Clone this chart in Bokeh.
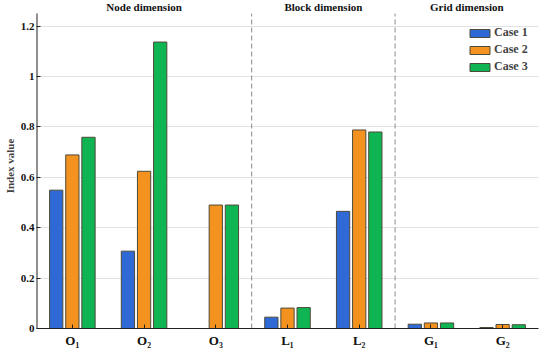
from bokeh.plotting import figure
from bokeh.models import Range1d, FixedTicker, Label, Legend, LegendItem, ColumnDataSource
from bokeh.embed import file_html
from bokeh.resources import INLINE

categories = ["O\u2081", "O\u2082", "O\u2083", "L\u2081", "L\u2082", "G\u2081", "G\u2082"]
case1 = [0.549, 0.307, 0.0, 0.045, 0.465, 0.017, 0.004]
case2 = [0.689, 0.624, 0.490, 0.081, 0.788, 0.022, 0.016]
case3 = [0.759, 1.137, 0.490, 0.083, 0.780, 0.022, 0.015]
series_names = ["Case 1", "Case 2", "Case 3"]
group_titles = ["Node dimension", "Block dimension", "Grid dimension"]
group_centers = [2.0, 4.5, 6.5]
group_dividers = [3.5, 5.5]
y_ticks = [0, 0.2, 0.4, 0.6, 0.8, 1.0, 1.2]
y_tick_labels = ["0", "0.2", "0.4", "0.6", "0.8", "1", "1.2"]

bar_colors = ["#2f69d6", "#f3921f", "#10b553"]
FONT = "Liberation Serif"

X_START, X_END = 0.5, 7.5
AXIS_TOP = 1.25     # where the drawn axis / dividers stop
Y_END = 1.29        # extra room above for the group headings

xs = [i + 1 for i in range(len(categories))]

p = figure(width=542, height=352, output_backend="svg", toolbar_location=None,
           x_range=Range1d(X_START, X_END), y_range=Range1d(0, Y_END),
           min_border_left=28, min_border_right=4, min_border_top=3, min_border_bottom=24)
p.outline_line_color = None
p.background_fill_color = "white"

p.xgrid.grid_line_color = None
p.ygrid.grid_line_color = "#e2e2e2"
p.ygrid.ticker = FixedTicker(ticks=y_ticks)

# dashed dividers between dimension groups
p.segment(x0=group_dividers, y0=[0] * len(group_dividers), x1=group_dividers,
          y1=[AXIS_TOP] * len(group_dividers), line_color="#8a8a8a", line_dash="5 3", line_width=1)

offsets = [-0.225, 0.0, 0.225]
renderers = []
for vals, off, col in zip([case1, case2, case3], offsets, bar_colors):
    src = ColumnDataSource(dict(x=[x + off for x in xs], top=vals))
    r = p.vbar(x="x", top="top", bottom=0, width=0.185, source=src,
               fill_color=col, line_color="#4d4a3a", line_width=1)
    renderers.append(r)

# left axis line that stops at AXIS_TOP
p.segment(x0=[X_START], y0=[0], x1=[X_START], y1=[AXIS_TOP], line_color="#222222", line_width=2)

for t, c in zip(group_titles, group_centers):
    p.add_layout(Label(x=c, y=AXIS_TOP + 0.003, text=t, text_font=FONT, text_font_style="bold",
                       text_font_size="11px", text_align="center", text_baseline="bottom",
                       text_color="#111111"))

legend = Legend(items=[LegendItem(label=n, renderers=[r]) for n, r in zip(series_names, renderers)],
                location=(431, 254), glyph_width=25, glyph_height=10, label_height=11,
                spacing=2, padding=4, margin=0, border_line_color=None,
                background_fill_alpha=0, label_text_font=FONT, label_text_font_style="bold",
                label_text_font_size="12px", label_standoff=2)
p.add_layout(legend)

p.xaxis.ticker = FixedTicker(ticks=xs)
p.xaxis.major_label_overrides = {x: c for x, c in zip(xs, categories)}
p.yaxis.ticker = FixedTicker(ticks=y_ticks)
p.yaxis.major_label_overrides = {t: l for t, l in zip(y_ticks, y_tick_labels)}
p.yaxis.axis_label = "Index value"

for ax in [p.xaxis[0], p.yaxis[0]]:
    ax.axis_line_color = "#222222"
    ax.major_tick_line_color = "#222222"
    ax.major_tick_in = 4
    ax.major_tick_out = 0
    ax.minor_tick_line_color = None
    ax.major_label_text_font = FONT
    ax.major_label_text_font_style = "bold"
    ax.major_label_text_color = "#111111"
    ax.axis_label_text_font = FONT
    ax.axis_label_text_font_style = "bold"
    ax.axis_label_text_font_size = "11px"

p.yaxis.axis_line_color = None
p.xaxis.major_label_text_font_size = "13px"
p.xaxis.major_label_standoff = 4
p.yaxis.major_label_text_font_size = "11px"
p.yaxis.major_label_standoff = 2
p.yaxis.axis_label_standoff = 2

open("out.html", "w").write(file_html(p, INLINE))
